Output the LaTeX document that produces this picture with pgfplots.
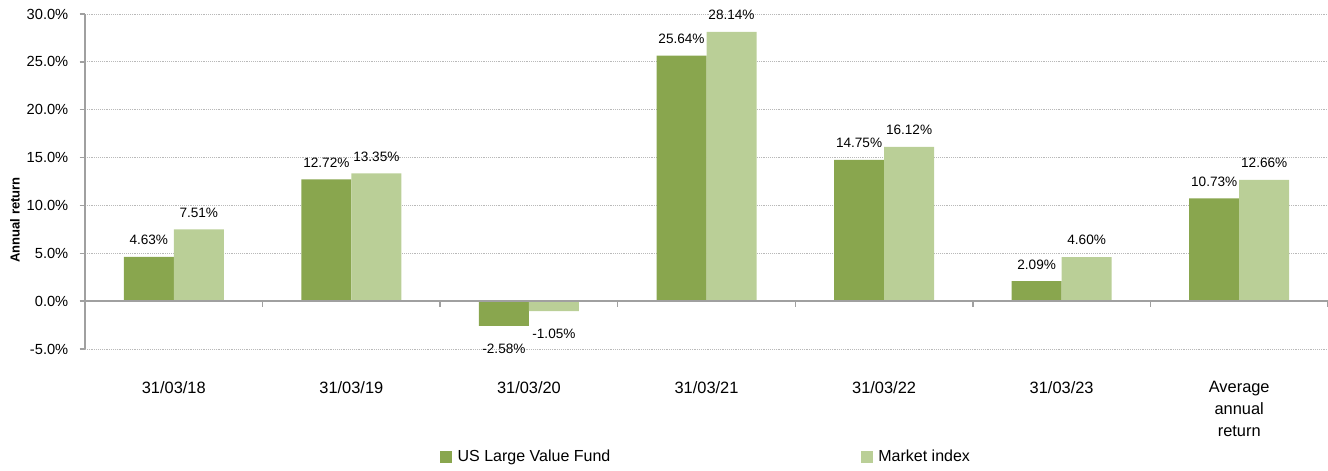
\documentclass[border=0pt]{standalone}
\usepackage{pgfplots}
\pgfplotsset{compat=1.18}
\usepackage{fontspec}
\setmainfont{Liberation Sans}
\usetikzlibrary{calc}
\definecolor{fundc}{RGB}{137,166,78}
\definecolor{idxc}{RGB}{186,207,151}
\definecolor{axc}{RGB}{160,160,160}
\definecolor{gridc}{RGB}{185,185,185}
\begin{document}
\begin{tikzpicture}
\begin{axis}[
  name=a,
  scale only axis,
  width=932.25pt, height=251.25pt,
  ybar=0pt, bar width=37.5pt,
  xmin=-0.5, xmax=6.5,
  ymin=-5, ymax=30,
  axis lines*=left,
  x axis line style={draw=none},
  y axis line style={axc, line width=1.2pt},
  xtick={0,1,2,3,4,5,6},
  xticklabels={31/03/18,31/03/19,31/03/20,31/03/21,31/03/22,31/03/23,{Average\\annual\\return}},
  x tick style={draw=none},
  major x tick style={draw=none},
  xticklabel style={align=center, anchor=north, yshift=-17pt, font=\fontsize{12.3}{16.5}\selectfont},
  ytick={-5,0,5,10,15,20,25,30},
  yticklabel={\pgfmathprintnumber[fixed,fixed zerofill,precision=1]{\tick}\%},
  yticklabel style={font=\fontsize{11}{13}\selectfont, xshift=-5pt},
  /pgf/number format/assume math mode=true,
  y tick style={axc, line width=1pt},
  tick align=outside,
  major tick length=4pt,
  ymajorgrids,
  grid style={gridc, densely dotted, line width=0.6pt},
  ylabel={\textbf{Annual return}},
  ylabel style={at={(axis description cs:-0.0563,0.385)}, anchor=center, font=\fontsize{9.8}{11}\selectfont},
  visualization depends on={rawy \as \rawy},
  nodes near coords={\pgfmathprintnumber[fixed,fixed zerofill,precision=2]{\pgfplotspointmeta}\%},
  nodes near coords style={font=\fontsize{10.2}{12}\selectfont, black, /pgf/number format/assume math mode=true, inner xsep=2pt, inner ysep=8.8pt, yshift={(\rawy<0)?(-4.7):(0)}},
  every axis plot/.append style={draw=none},
  legend columns=-1,
  legend style={at={(0.5,-0.322)}, anchor=center, draw=none, font=\fontsize{12}{14}\selectfont,
    /tikz/every even column/.append style={column sep=186pt},
    /tikz/every odd column/.append style={column sep=2pt}},
  legend image code/.code={\fill[#1] (0pt,-4.5pt) rectangle (9pt,4.5pt);},
  clip=false,
]
\addplot[fill=fundc] coordinates {(0,4.63) (1,12.72) (2,-2.58) (3,25.64) (4,14.75) (5,2.09) (6,10.73)};
\addplot[fill=idxc] coordinates {(0,7.51) (1,13.35) (2,-1.05) (3,28.14) (4,16.12) (5,4.60) (6,12.66)};
\legend{US Large Value Fund, Market index}
\draw[axc, line width=1.2pt] (axis cs:-0.5,0) -- (axis cs:6.5,0);
\draw[axc, line width=1pt]
  (axis cs:0.5,0) -- (axis cs:0.5,-0.6)
  (axis cs:1.5,0) -- (axis cs:1.5,-0.6)
  (axis cs:2.5,0) -- (axis cs:2.5,-0.6)
  (axis cs:3.5,0) -- (axis cs:3.5,-0.6)
  (axis cs:4.5,0) -- (axis cs:4.5,-0.6)
  (axis cs:5.5,0) -- (axis cs:5.5,-0.6)
  (axis cs:6.5,0) -- (axis cs:6.5,-0.6);
\end{axis}
\pgfresetboundingbox
\path ($(a.south west)+(-63.75pt,-90.75pt)$) rectangle ($(a.north east)+(0pt,10.5pt)$);
\end{tikzpicture}
\end{document}
